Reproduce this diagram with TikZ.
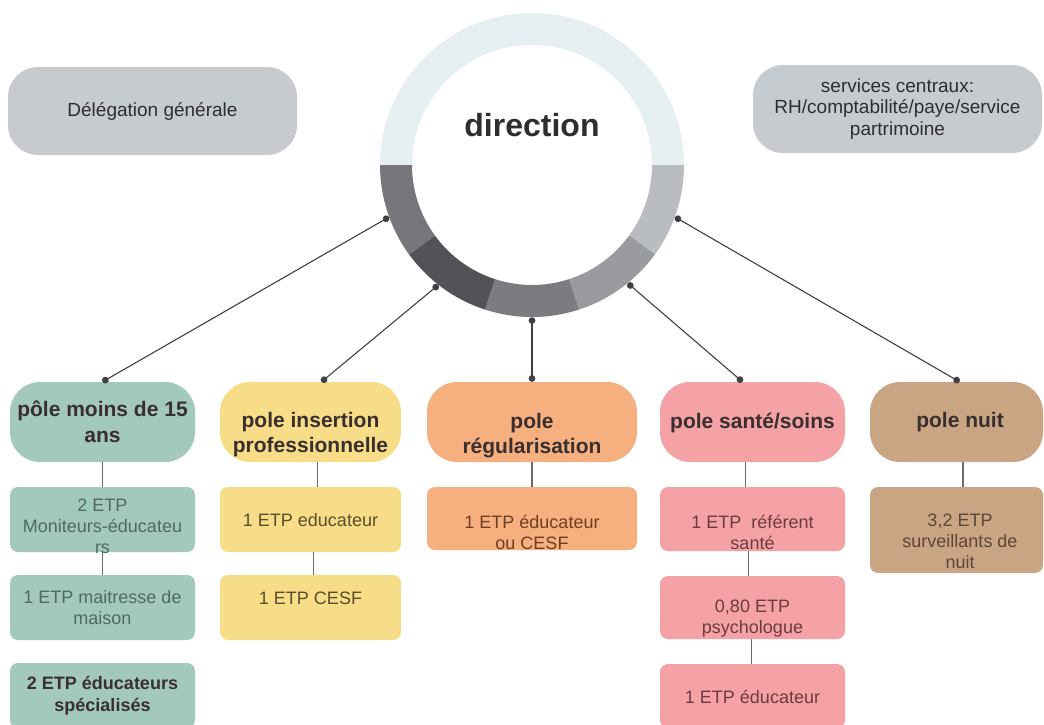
\documentclass[tikz,border=0pt]{standalone}
\usepackage{fontspec}
\setmainfont{Liberation Sans}
\usetikzlibrary{arrows}
\usetikzlibrary{calc}

\definecolor{ringtop}{HTML}{E6F0F3}
\definecolor{segA}{HTML}{77777B}
\definecolor{segB}{HTML}{535357}
\definecolor{segC}{HTML}{7B7B80}
\definecolor{segD}{HTML}{9A9B9F}
\definecolor{segE}{HTML}{B9BDC0}
\definecolor{topgray}{HTML}{C6CBCF}
\definecolor{teal}{HTML}{A3C9BB}
\definecolor{yel}{HTML}{F7DD88}
\definecolor{ora}{HTML}{F6AF7E}
\definecolor{pink}{HTML}{F4A2A6}
\definecolor{tan}{HTML}{C9A584}
\definecolor{hdtext}{HTML}{3A2F2F}
\definecolor{toptext}{HTML}{2E2E30}
\definecolor{tA}{HTML}{4E6A63}
\definecolor{tB}{HTML}{5C4C2C}
\definecolor{tC}{HTML}{6F3E22}
\definecolor{tD}{HTML}{6E3B3D}
\definecolor{tE}{HTML}{5C4636}
\definecolor{linkgray}{HTML}{404042}
\definecolor{stemgray}{HTML}{6A6A6C}

\tikzset{box/.style={inner sep=0pt, minimum width=289pt, minimum height=88pt, rounded corners=30pt, fill=topgray, text=toptext, align=center, font=\fontsize{19}{21.5}\selectfont}}
\tikzset{pole/.style={inner sep=0pt, minimum height=80pt, rounded corners=30pt}}
\tikzset{cell/.style={inner sep=0pt, rounded corners=8pt}}
\tikzset{hd/.style={font=\fontsize{21}{25.5}\selectfont\bfseries, text=hdtext, align=center}}
\tikzset{tx/.style={font=\fontsize{18}{21}\selectfont, align=center}}
\tikzset{link/.style={draw=linkgray, line width=1.1pt, *-*}}
\tikzset{stem/.style={draw=stemgray, line width=1.3pt}}

\begin{document}
\begin{tikzpicture}[x=1pt,y=-1pt]
  \useasboundingbox (0,0) rectangle (1044,724);

  % ring
  \node[circle, minimum size=304pt, inner sep=0pt] (dir) at (532,165) {};
  \begin{scope}[shift={(532,165)}]
    \fill[ringtop] (180:152) arc[start angle=180, end angle=360, radius=152]
      -- (0:120) arc[start angle=0, end angle=-180, radius=120] -- cycle;
    \foreach \a/\c in {0/segE,36/segD,72/segC,108/segB,144/segA}
      \fill[\c] (\a:152) arc[start angle=\a, delta angle=36, radius=152]
        -- (\a+36:120) arc[start angle=\a+36, delta angle=-36, radius=120] -- cycle;
  \end{scope}
  \node[font=\fontsize{32}{32}\selectfont\bfseries, text=toptext] (dirt) at (532,125) {direction};

  \node[box] (dg) at (152.5,111) {Délégation générale};
  \node[box] (sc) at (897.5,109) {services centraux:\\RH/comptabilité/paye/service\\partrimoine};

  % poles
  \node[pole, fill=teal, minimum width=185pt] (p1) at (102.5,422) {};
  \node[pole, fill=yel, minimum width=181pt] (p2) at (310.5,422) {};
  \node[pole, fill=ora, minimum width=210pt] (p3) at (532,422) {};
  \node[pole, fill=pink, minimum width=185pt] (p4) at (752.5,422) {};
  \node[pole, fill=tan, minimum width=173pt] (p5) at (956.5,422) {};

  % cells
  \node[cell, fill=teal, minimum width=185pt, minimum height=65pt] (c11) at (102.5,519.5) {};
  \node[cell, fill=teal, minimum width=185pt, minimum height=65pt] (c12) at (102.5,607.5) {};
  \node[cell, fill=teal, minimum width=185pt, minimum height=65pt] (c13) at (102.5,695.5) {};
  \node[cell, fill=yel, minimum width=181pt, minimum height=65pt] (c21) at (310.5,519.5) {};
  \node[cell, fill=yel, minimum width=181pt, minimum height=65pt] (c22) at (310.5,607.5) {};
  \node[cell, fill=ora, minimum width=210pt, minimum height=63pt] (c31) at (532,518.5) {};
  \node[cell, fill=pink, minimum width=185pt, minimum height=64pt] (c41) at (752.5,519) {};
  \node[cell, fill=pink, minimum width=185pt, minimum height=63pt] (c42) at (752.5,607.5) {};
  \node[cell, fill=pink, minimum width=185pt, minimum height=64pt] (c43) at (752.5,696) {};
  \node[cell, fill=tan, minimum width=173pt, minimum height=86pt] (c51) at (956.5,530) {};

  % links from direction
  \draw[link] (dir.200) -- (p1.north);
  \draw[link] (dir.232) -- ([xshift=11pt]p2.north);
  \draw[link] (dir.270) -- (p3.north);
  \draw[link] (dir.309) -- ([xshift=-10pt]p4.north);
  \draw[link] (dir.340) -- ([xshift=3pt]p5.north);

  % stems
  \draw[stem] (p1) -- (c11);
  \draw[stem] (c11) -- (c12);
  \draw[stem] ([xshift=7pt]p2.south) -- ([xshift=7pt]c21.north);
  \draw[stem] ([xshift=3pt]c21.south) -- ([xshift=3pt]c22.north);
  \draw[stem] (p3) -- (c31);
  \draw[stem] ([xshift=-7pt]p4.south) -- ([xshift=-7pt]c41.north);
  \draw[stem] ([xshift=-4pt]c41.south) -- ([xshift=-4pt]c42.north);
  \draw[stem] ([xshift=-1pt]c42.south) -- ([xshift=-1pt]c43.north);
  \draw[stem] ([xshift=6.5pt]p5.south) -- ([xshift=6.5pt]c51.north);

  % texts
  \node[hd] (p1t) at (102.5,422) {pôle moins de 15\\ans};
  \node[hd] (p2t) at (310.5,434.5) {pole insertion\\professionnelle};
  \node[hd] (p3t) at (532,435.5) {pole\\régularisation};
  \node[hd] (p4t) at (752.5,423) {pole santé/soins};
  \node[hd] (p5t) at (960,422) {pole nuit};

  \node[tx, text=tA] (c11t) at (102.5,526) {2 ETP\\Moniteurs-éducateu\\rs};
  \node[tx, text=tA] (c12t) at (102.5,607.5) {1 ETP maitresse de\\maison};
  \node[tx, text=hdtext, font=\fontsize{18}{22}\selectfont\bfseries] (c13t) at (102.5,696) {2 ETP éducateurs\\spécialisés};
  \node[tx, text=tB] (c21t) at (310.5,520) {1 ETP educateur};
  \node[tx, text=tB] (c22t) at (310.5,598) {1 ETP CESF};
  \node[tx, text=tC] (c31t) at (532,532) {1 ETP éducateur\\ou CESF};
  \node[tx, text=tD] (c41t) at (752.5,532) {1 ETP~ référent\\santé};
  \node[tx, text=tD] (c42t) at (752.5,619) {0,80 ETP\\psychologue};
  \node[tx, text=tD] (c43t) at (752.5,697) {1 ETP éducateur};
  \node[tx, text=tE] (c51t) at (960,541.5) {3,2 ETP\\surveillants de\\nuit};
\end{tikzpicture}
\end{document}
